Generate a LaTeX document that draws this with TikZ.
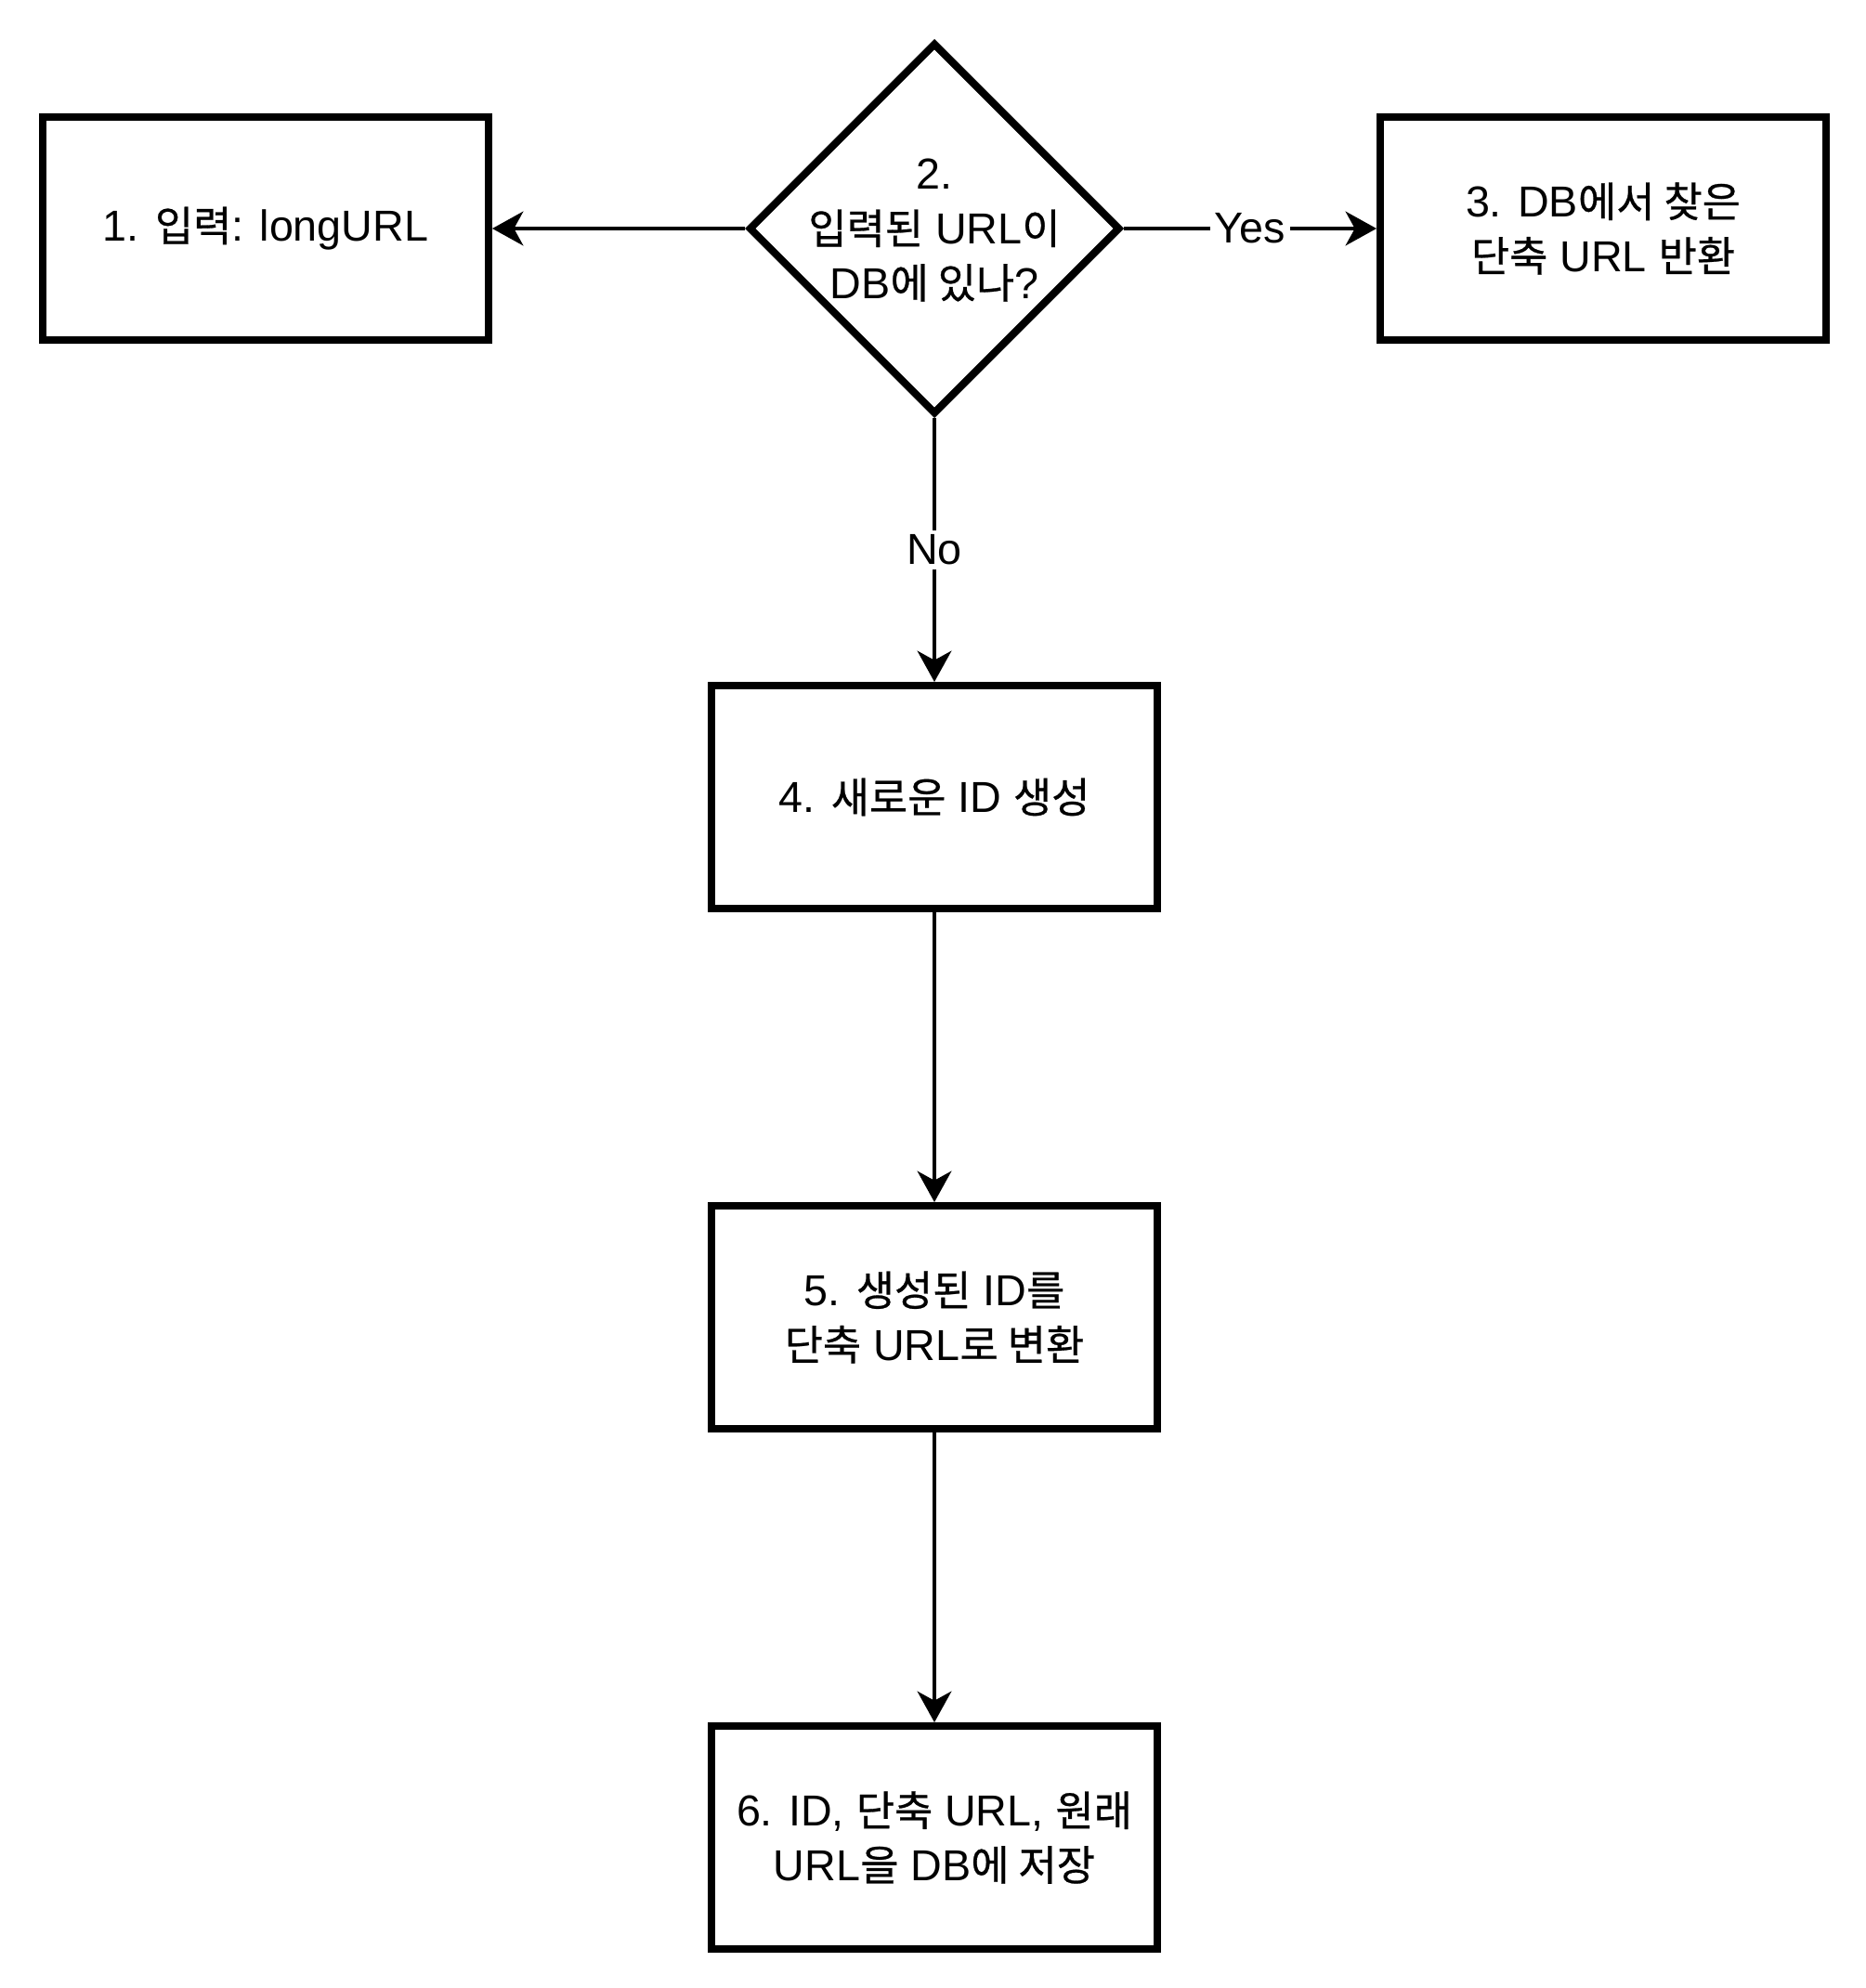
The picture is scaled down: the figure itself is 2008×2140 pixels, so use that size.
\documentclass[tikz,border=0pt]{standalone}
\usepackage{fontspec}
\setmainfont{Liberation Sans}
\newfontfamily\krfont[Scale=0.96,FakeBold=0.6]{Noto Sans CJK KR}
\newcommand\hg[1]{{\krfont #1}}
\usetikzlibrary{arrows.meta,shapes.geometric}
\begin{document}
\begin{tikzpicture}[x=0.3pt,y=-0.3pt,
  every node/.style={font=\fontsize{14pt}{17.6pt}\selectfont},
  box/.style={draw=black,line width=2.4pt,minimum width=144pt,minimum height=72pt,inner sep=0pt,align=center,fill=white},
  dia/.style={draw=black,line width=2.4pt,diamond,aspect=1,minimum width=120pt,minimum height=120pt,inner sep=0pt},
  conn/.style={line width=1.2pt,-{Stealth[length=10pt,width=11pt,inset=3pt]}},
  lbl/.style={fill=white,inner sep=1.5pt}]
\useasboundingbox (0,0) rectangle (2008,2140);
\node[box] (b1) at (286,246) {1. \hg{입력}: longURL};
\node[dia] (d) at (1006,246) {};
\node[align=center] (dt) at (1006,248) {2.\\\hg{입력된} URL\hg{이}\\DB\hg{에 있나}?};
\node[box] (b3) at (1726,246) {3. DB\hg{에서 찾은}\\\hg{단축} URL \hg{반환}};
\node[box] (b4) at (1006,858) {4. \hg{새로운} ID \hg{생성}};
\node[box] (b5) at (1006,1418) {5. \hg{생성된} ID\hg{를}\\\hg{단축} URL\hg{로 변환}};
\node[box] (b6) at (1006,1978) {6. ID, \hg{단축} URL, \hg{원래}\\URL\hg{을} DB\hg{에 저장}};
\draw[conn] (d.west) -- (b1.east);
\draw[conn] (d.east) -- node[lbl] (yes) {Yes} (b3.west);
\draw[conn] (d.south) -- node[lbl] (no) {No} (b4.north);
\draw[conn] (b4.south) -- (b5.north);
\draw[conn] (b5.south) -- (b6.north);
\end{tikzpicture}
\end{document}
